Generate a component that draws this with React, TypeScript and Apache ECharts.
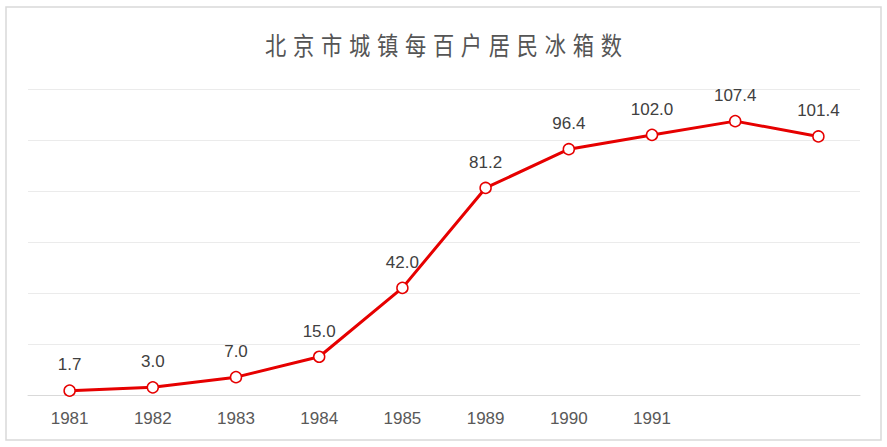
import React, { useEffect, useRef } from 'react';
import * as echarts from 'echarts';

const title = '北京市城镇每百户居民冰箱数';
// the last two axis labels are hidden under a watermark in the reference
const years = ['1981', '1982', '1983', '1984', '1985', '1989', '1990', '1991', '', ''];
const fridges = [1.7, 3.0, 7.0, 15.0, 42.0, 81.2, 96.4, 102.0, 107.4, 101.4];
const yTicks = [0, 20, 40, 60, 80, 100, 120];

const labelFont = "'Liberation Sans', Arial, sans-serif";

const App: React.FC = () => {
  const chartRef = useRef<HTMLDivElement>(null);

  useEffect(() => {
    document.body.style.margin = '0';
    if (!chartRef.current) return;
    const chart = echarts.init(chartRef.current, undefined, { renderer: 'svg' });

    const option: echarts.EChartsOption = {
      animation: false,
      backgroundColor: '#ffffff',
      graphic: [
        {
          type: 'rect',
          shape: { x: 6, y: 7, width: 875, height: 433 },
          style: { fill: 'none', stroke: '#d9d9d9', lineWidth: 1.5 },
          silent: true,
        },
        {
          type: 'text',
          x: 443.5,
          y: 46,
          scaleX: 0.85,
          style: {
            text: title.split('').join(' '),
            fontFamily: "'DejaVu Sans', 'Noto Sans CJK SC'",
            fontSize: 25,
            fill: '#555555',
            textAlign: 'center',
            textVerticalAlign: 'middle',
          },
        },
      ],
      grid: {
        left: 28,
        right: 27,
        top: 89,
        bottom: 52,
        containLabel: false,
      },
      xAxis: {
        type: 'category',
        data: years,
        boundaryGap: true,
        axisTick: { show: false },
        axisLine: { lineStyle: { color: '#d9d9d9', width: 1 } },
        axisLabel: {
          color: '#595959',
          fontSize: 17,
          fontFamily: labelFont,
          margin: 15,
          interval: 0,
        },
      },
      yAxis: {
        type: 'value',
        min: yTicks[0],
        max: yTicks[yTicks.length - 1],
        interval: 20,
        axisLine: { show: false },
        axisTick: { show: false },
        axisLabel: { show: false },
        splitLine: { lineStyle: { color: '#ebebeb', width: 1 } },
      },
      series: [
        {
          type: 'line',
          data: fridges,
          symbol: 'circle',
          symbolSize: 11,
          lineStyle: { color: '#e60000', width: 3 },
          itemStyle: { color: '#ffffff', borderColor: '#e60000', borderWidth: 1.5 },
          label: {
            show: true,
            position: 'top',
            distance: 11,
            color: '#404040',
            fontSize: 17,
            fontFamily: labelFont,
            formatter: (p: any) => Number(p.value).toFixed(1),
          },
        },
      ],
    };

    chart.setOption(option as any);

    return () => {
      chart.dispose();
    };
  }, []);

  return <div ref={chartRef} style={{ width: 887, height: 447 }} />;
};

export default App;
